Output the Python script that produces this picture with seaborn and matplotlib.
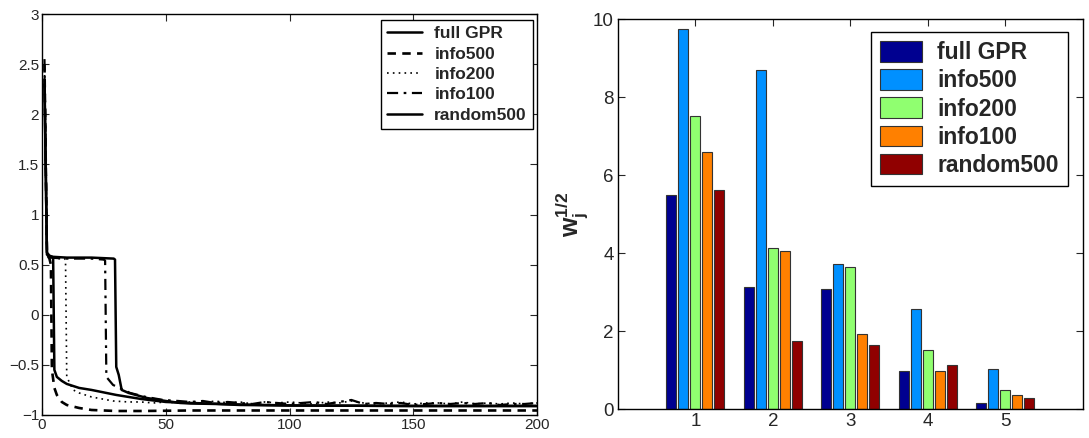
import numpy as np
import pandas as pd
import matplotlib
matplotlib.use("Agg")
import matplotlib.pyplot as plt
import seaborn as sns

# ---------------- data: left panel (objective vs. iteration) ----------------
full_x = [1, 2, 3, 4, 4.5, 5, 6, 8, 10, 15, 20, 30, 40, 50, 60, 80, 100, 150, 200]
full_y = [2.35, 0.62, 0.59, 0.58, 0.57, -0.55, -0.62, -0.66, -0.69, -0.73, -0.75, -0.80,
          -0.84, -0.87, -0.88, -0.895, -0.905, -0.91, -0.91]

info500_x = [1, 2, 3, 3.6, 4, 5, 6, 8, 10, 15, 20, 30, 40, 60, 80, 100, 150, 200]
info500_y = [2.5, 0.6, 0.56, 0.5, -0.55, -0.73, -0.80, -0.87, -0.90, -0.93, -0.95, -0.96,
             -0.96, -0.955, -0.955, -0.955, -0.955, -0.955]

info200_x = [1, 2, 3, 5, 9, 9.5, 10, 12.6, 15, 20, 28.7, 35, 40, 45, 50, 55, 60, 65, 70, 75,
             80, 85, 90, 95, 100, 105, 110, 115, 120, 125, 130, 135, 140, 145, 150, 155,
             160, 165, 170, 175, 180, 185, 190, 195, 200]
info200_y = [2.45, 0.6, 0.57, 0.56, 0.56, 0.55, -0.62, -0.75, -0.78, -0.82, -0.86, -0.87,
             -0.87, -0.88, -0.87, -0.88, -0.87, -0.88, -0.86, -0.88, -0.87, -0.89, -0.87,
             -0.88, -0.87, -0.88, -0.89, -0.87, -0.88, -0.86, -0.88, -0.89, -0.88, -0.87,
             -0.89, -0.88, -0.88, -0.89, -0.87, -0.89, -0.88, -0.89, -0.88, -0.89, -0.88]

info100_x = [1, 2, 3, 10, 20, 25, 25.5, 26, 28.7, 35.6, 42, 49, 55, 60, 65, 70, 75, 80, 85,
             90, 95, 100, 105, 110, 115, 120, 125, 130, 135, 140, 145, 150, 155, 160, 165,
             170, 175, 180, 185, 190, 195, 200]
info100_y = [2.55, 0.6, 0.57, 0.56, 0.56, 0.55, 0.54, -0.62, -0.70, -0.78, -0.82, -0.85,
             -0.86, -0.87, -0.86, -0.88, -0.87, -0.88, -0.89, -0.87, -0.88, -0.89, -0.88,
             -0.87, -0.89, -0.87, -0.85, -0.89, -0.88, -0.89, -0.88, -0.90, -0.89, -0.88,
             -0.89, -0.88, -0.89, -0.88, -0.90, -0.89, -0.89, -0.88]

random_x = [1, 2, 3, 10, 20, 29, 29.5, 30, 31, 32.2, 35, 42.3, 50, 55.8, 60, 70, 80, 100,
            150, 200]
random_y = [2.3, 0.6, 0.58, 0.57, 0.57, 0.56, 0.55, -0.52, -0.60, -0.75, -0.78, -0.83,
            -0.86, -0.88, -0.885, -0.89, -0.9, -0.905, -0.91, -0.91]

line_labels = ["full GPR", "info500", "info200", "info100", "random500"]

# ---------------- data: right panel (bars) ----------------
features = ["1", "2", "3", "4", "5"]
methods = ["full GPR", "info500", "info200", "info100", "random500"]
val_full = [5.49, 3.14, 3.07, 0.97, 0.15]
val_info500 = [9.75, 8.69, 3.73, 2.56, 1.02]
val_info200 = [7.52, 4.14, 3.64, 1.51, 0.49]
val_info100 = [6.58, 4.06, 1.94, 0.98, 0.36]
val_random = [5.61, 1.75, 1.64, 1.14, 0.28]
bar_colors = ["#000090", "#0090FF", "#90FF70", "#FF8000", "#900000"]

# ---------------- styling ----------------
sns.set_style("ticks")
plt.rcParams["font.family"] = ["Liberation Sans", "DejaVu Sans"]
plt.rcParams["mathtext.fontset"] = "custom"
plt.rcParams["mathtext.rm"] = "Liberation Sans"
plt.rcParams["mathtext.it"] = "Liberation Sans:italic"
plt.rcParams["mathtext.bf"] = "Liberation Sans:bold"
plt.rcParams["xtick.direction"] = "in"
plt.rcParams["ytick.direction"] = "in"

W, H = 1089, 438
fig = plt.figure(figsize=(W / 100, H / 100), dpi=100)
ax1 = fig.add_axes([42 / W, 1 - 415 / H, (537 - 42) / W, (415 - 14) / H])
ax2 = fig.add_axes([618 / W, 1 - 409.3 / H, (1082.5 - 618) / W, (409.3 - 19) / H])

# ---- left panel ----
series = [
    (full_x, full_y, "-", 1.8),
    (info500_x, info500_y, (0, (3.2, 2.4)), 1.9),
    (info200_x, info200_y, (0, (1, 2.5)), 1.2),
    (info100_x, info100_y, (0, (5, 2.5, 1.2, 2.5)), 1.6),
    (random_x, random_y, "-", 1.8),
]
for (xs, ys, ls, lw), lab in zip(series, line_labels):
    sns.lineplot(x=xs, y=ys, ax=ax1, color="black", linestyle=ls, linewidth=lw,
                 label=lab, estimator=None, sort=False)

ax1.set_xlim(0, 200)
ax1.set_ylim(-1, 3)
ax1.set_xticks([0, 50, 100, 150, 200])
ax1.set_yticks([-1, -0.5, 0, 0.5, 1, 1.5, 2, 2.5, 3])
ax1.set_yticklabels(["\u22121", "\u22120.5", "0", "0.5", "1", "1.5", "2", "2.5", "3"])
ax1.tick_params(labelsize=11, top=True, right=True, length=5, width=0.8, pad=2)
for s in ax1.spines.values():
    s.set_visible(True)
    s.set_linewidth(1.0)
    s.set_color("black")
leg1 = ax1.legend(loc="upper right", bbox_to_anchor=(1 - 4 / 495, 1 - 6 / 401),
                  prop={"weight": "bold", "size": 12.5}, frameon=True, fancybox=False,
                  edgecolor="black", framealpha=1, handlelength=2.0, labelspacing=0.3,
                  borderpad=0.35, handletextpad=0.7, borderaxespad=0.0)
leg1.get_frame().set_linewidth(1.0)

# ---- right panel ----
rows = []
for m, vals in zip(methods, [val_full, val_info500, val_info200, val_info100, val_random]):
    for f, v in zip(features, vals):
        rows.append({"feature": f, "method": m, "value": v})
df = pd.DataFrame(rows)

sns.barplot(data=df, x="feature", y="value", hue="method", order=features,
            hue_order=methods, palette=bar_colors, width=0.775, gap=0.16,
            edgecolor="#333333", linewidth=0.8, saturation=1, ax=ax2)
ax2.set_xlim(-1, 5)
ax2.set_ylim(0, 10)
ax2.set_yticks([0, 2, 4, 6, 8, 10])
ax2.set_xlabel("")
ax2.set_ylabel(r"$\mathbf{w_j^{1/2}}$", fontsize=18, labelpad=2)
ax2.tick_params(labelsize=13.5, top=True, right=True, length=5, width=0.8, pad=3)
for s in ax2.spines.values():
    s.set_visible(True)
    s.set_linewidth(1.0)
    s.set_color("black")
leg2 = ax2.legend(loc="upper right", bbox_to_anchor=(1 - 14.5 / 464.5, 1 - 13 / 390.3),
                  prop={"weight": "bold", "size": 16.5}, frameon=True, fancybox=False,
                  edgecolor="black", framealpha=1, handlelength=1.85, handleheight=1.0,
                  labelspacing=0.22, borderpad=0.4, handletextpad=0.65, borderaxespad=0.0)
leg2.get_frame().set_linewidth(1.0)

fig.savefig("out.png", dpi=100)
